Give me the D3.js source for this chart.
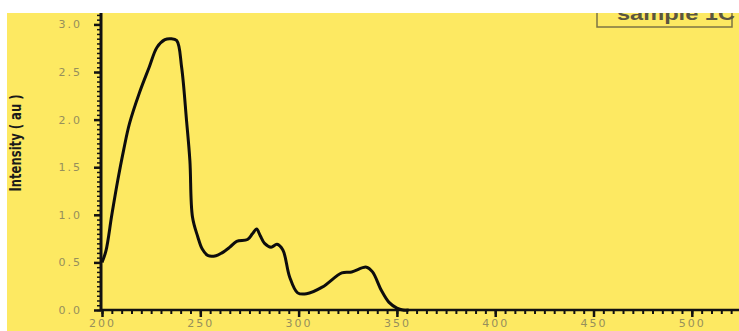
<!DOCTYPE html>
<html>
<head>
<meta charset="utf-8">
<script src="https://cdn.jsdelivr.net/npm/d3@7"></script>
<style>
  body { margin: 0; background: #fff; }
  .tick text { font-family: "DejaVu Sans", sans-serif; font-size: 11px; fill: #968f5c; letter-spacing: 2px; }
</style>
</head>
<body>
<svg id="chart"></svg>
<script>
// spectrum (wavelength nm, intensity au)
var wavelength = [200, 202, 205, 208, 211, 214, 219, 224, 228, 232, 235, 238, 240.5, 243, 244.7, 246, 248.7, 251, 254, 258, 261, 265, 268.5, 274, 276.5, 278.6, 280.5, 282.7, 286, 289, 292, 295.4, 299.5, 304, 312, 322, 327, 334.5, 337.6, 342, 346, 350, 353, 356];
var intensity  = [0.5, 0.62, 1.0, 1.36, 1.68, 1.96, 2.28, 2.55, 2.76, 2.84, 2.85, 2.83, 2.55, 1.99, 1.57, 0.98, 0.77, 0.64, 0.57, 0.57, 0.6, 0.66, 0.72, 0.74, 0.8, 0.85, 0.78, 0.7, 0.66, 0.69, 0.63, 0.35, 0.18, 0.17, 0.24, 0.39, 0.4, 0.45, 0.4, 0.21, 0.08, 0.02, 0, 0];
var xTicks = [200, 250, 300, 350, 400, 450, 500];
var yTicks = [0, 0.5, 1.0, 1.5, 2.0, 2.5, 3.0];
var legendLabel = "sample 1C";
var yLabel = "Intensity ( au )";

var W = 739, H = 331;
var svg = d3.select("#chart").attr("width", W).attr("height", H);

// yellow panel
svg.append("rect").attr("x", 7).attr("y", 13).attr("width", W - 7).attr("height", H - 13).attr("fill", "#fde962");

var x = d3.scaleLinear().domain([200, 524]).range([102, 739]);
var y = d3.scaleLinear().domain([0, 3.12]).range([310, 13]);

// minor ticks
svg.append("g").attr("transform", "translate(0,310)")
  .call(d3.axisBottom(x).tickValues(d3.range(200, 525, 5)).tickSize(4).tickFormat(""))
  .call(g => g.select(".domain").remove())
  .selectAll("line").attr("stroke", "#111").attr("stroke-width", 2);
svg.append("g").attr("transform", "translate(101,0)")
  .call(d3.axisLeft(y).tickValues(d3.range(0, 3.12, 0.05)).tickSize(4).tickFormat(""))
  .call(g => g.select(".domain").remove())
  .selectAll("line").attr("stroke", "#111").attr("stroke-width", 1.5);

// major ticks + labels
var xa = svg.append("g").attr("transform", "translate(0,310)")
  .call(d3.axisBottom(x).tickValues(xTicks).tickSize(7).tickPadding(2).tickFormat(d3.format("d")));
xa.select(".domain").attr("stroke", "#111").attr("stroke-width", 2.5).attr("d", "M101,0H739");
xa.selectAll("line").attr("stroke", "#111").attr("stroke-width", 2.5);

var ya = svg.append("g").attr("transform", "translate(101,0)")
  .call(d3.axisLeft(y).tickValues(yTicks).tickSize(7).tickPadding(12).tickFormat(d3.format(".1f")));
ya.select(".domain").attr("stroke", "#111").attr("stroke-width", 3).attr("d", "M0,310V13");
ya.selectAll("line").attr("stroke", "#111").attr("stroke-width", 2.5);

// curve
var pts = wavelength.map((d, i) => [d, intensity[i]]);
svg.append("path")
  .datum(pts)
  .attr("fill", "none")
  .attr("stroke", "#0d0d0d")
  .attr("stroke-width", 3)
  .attr("stroke-linejoin", "round")
  .attr("d", d3.line().x(d => x(d[0])).y(d => y(d[1])).curve(d3.curveCatmullRom));

// y label
svg.append("text")
  .attr("transform", "translate(21,143) rotate(-90)")
  .attr("text-anchor", "middle")
  .attr("font-family", "DejaVu Sans Condensed, DejaVu Sans, sans-serif")
  .attr("font-weight", "bold")
  .attr("font-size", 15)
  .attr("fill", "#1a1a1a")
  .attr("textLength", 97)
  .attr("lengthAdjust", "spacingAndGlyphs")
  .text(yLabel);

// legend box (top clipped by white strip)
svg.append("rect").attr("x", 597).attr("y", 2).attr("width", 135).attr("height", 25)
  .attr("fill", "#fde962").attr("stroke", "#7d7444").attr("stroke-width", 1.5);
svg.append("text")
  .attr("x", 617).attr("y", 20)
  .attr("font-family", "Liberation Sans, Arial, sans-serif")
  .attr("font-weight", "bold")
  .attr("font-size", 19)
  .attr("fill", "#5a5540")
  .attr("textLength", 118)
  .attr("lengthAdjust", "spacingAndGlyphs")
  .text(legendLabel);
svg.append("rect").attr("x", 0).attr("y", 0).attr("width", W).attr("height", 13).attr("fill", "#fff");
</script>
</body>
</html>
